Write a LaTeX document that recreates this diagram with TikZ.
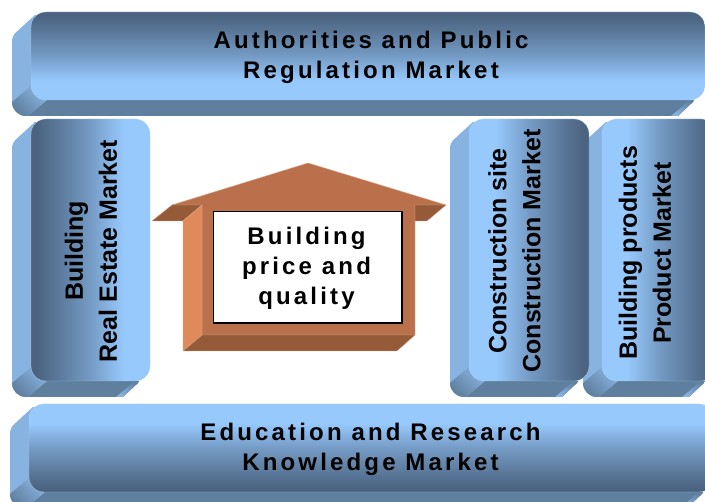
\documentclass[tikz,border=0pt]{standalone}
\usepackage{fontspec}
\setmainfont{Liberation Sans}
\newfontfamily\spacedfont[LetterSpace=13.2]{Liberation Sans}
\definecolor{mktlight}{HTML}{97C9FD}
\definecolor{mktdark}{HTML}{4B6380}
\definecolor{mktside}{HTML}{88B3E0}
\definecolor{mktlow}{HTML}{5F7F9E}
\definecolor{mktedge}{HTML}{B4D4F4}
\definecolor{hfront}{HTML}{BA704B}
\definecolor{hdark}{HTML}{955A38}
\definecolor{hleft}{HTML}{E08A5C}
\definecolor{hedge}{HTML}{D9A488}
\pgfdeclareverticalshading{mktfade}{100bp}{color(0bp)=(mktdark); color(27bp)=(mktdark); color(36bp)=(mktdark!80!mktlight); color(50bp)=(mktdark!45!mktlight); color(64bp)=(mktlight); color(100bp)=(mktlight)}
\tikzset{
  x=1pt,y=-1pt,
  hspaced/.style={font=\spacedfont\bfseries\fontsize{24}{30}\selectfont,align=center,text=black,inner sep=0pt},
  vplain/.style={font=\bfseries\fontsize{25}{34}\selectfont,align=center,text=black,inner sep=0pt,rotate=90},
  housepart/.style={draw=hedge,line width=0.4pt,line join=round},
  label box/.style={draw=black,line width=1.5pt,fill=white,minimum width=188.5pt,minimum height=111.5pt,inner sep=0pt},
}
% #1 x1, #2 y1, #3 x2, #4 y2, #5 shading angle
\newcommand{\marketblock}[5]{%
  \begin{scope}
    \clip (#1+4,#2+3) [rounded corners=5pt] -- (#1-19,#2+24) [rounded corners=14pt] -- (#1-19,#4+16) [sharp corners] -- (#3-27,#4+16) [rounded corners=3pt] -- (#3-10,#4) [sharp corners] -- (#3-10,#2+30) -- cycle;
    \fill[mktside] (#1-19,#2) rectangle (#1+20,#4+16);
    \fill[mktlow] (#1+16,#4) -- (#1-3,#4+16) -- (#3,#4+16) -- (#3,#4) -- cycle;
    \shade[left color=mktside,right color=mktlow,shading angle=315] (#1,#4-14) -- (#1-19,#4+2) -- (#1-19,#4+16) -- (#1-3,#4+16) -- (#1+16,#4) -- cycle;
    \shade[left color=mktlow,right color=mktside,shading angle=315] (#3-15,#4) -- (#3-34,#4+16) -- (#3-27,#4+16) -- (#3-10,#4) -- cycle;
  \end{scope}
  \shade[shading=mktfade,shading angle=#5,rounded corners=15pt] (#1,#2) rectangle (#3,#4);
  \draw[mktedge,line width=0.4pt,opacity=.7,rounded corners=15pt] (#1,#2) rectangle (#3,#4);
}
\begin{document}
\begin{tikzpicture}
\useasboundingbox (0,0) rectangle (705,502);
\clip (0,0) rectangle (705,502);
\fill[white] (0,0) rectangle (705,502);

\marketblock{31}{12}{705}{100}{180}
\marketblock{31}{119}{150}{381}{270}
\marketblock{602}{119}{716}{381}{90}
\marketblock{469}{119}{589}{381}{90}
\marketblock{29}{404}{714}{492}{0}

% house
\fill[hfront,housepart] (308,163) -- (446,205) -- (415,205) -- (415,335) -- (202,335) -- (202,205) -- (172,205) -- cycle;
\fill[hdark,housepart] (172,205) -- (202,205) -- (183,221) -- (152,221) -- cycle;
\fill[hdark,housepart] (415,205) -- (446,205) -- (427,221) -- (415,221) -- cycle;
\fill[hleft,housepart] (202,205) -- (183,221) -- (183,351) -- (202,335) -- cycle;
\fill[hdark,housepart] (202,335) -- (415,335) -- (397,351) -- (183,351) -- cycle;
\node[label box] (pricebox) at (307.8,267.5) {};
\node[hspaced] (price) at (306.5,268) {Building\\price and\\quality};

\node[hspaced] (auth) at (371,57.5) {Authorities and Public\\Regulation Market};
\node[hspaced] (know) at (370.5,449.5) {Education and Research\\Knowledge Market};
\node[vplain] (real) at (91,251) {Building\\Real Estate Market};
\node[vplain] (cons) at (514.5,251) {Construction site\\Construction Market};
\node[vplain] (prod) at (645,253) {Building products\\Product Market};
\end{tikzpicture}
\end{document}
